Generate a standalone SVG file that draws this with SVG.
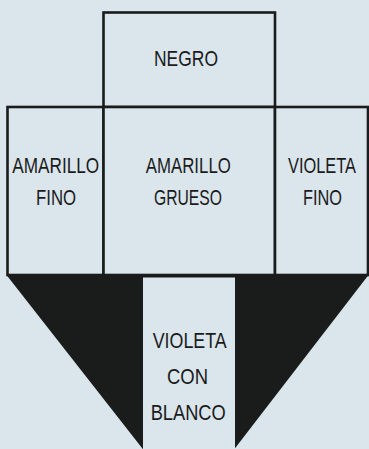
<svg xmlns="http://www.w3.org/2000/svg" width="369" height="449" viewBox="0 0 369 449">
<style>
.bg{fill:#dbe5ec}
.box{fill:#dbe5ec;stroke:#1a1c1c;stroke-width:2.6}
.dark{fill:#1a1c1c}
.t{font-family:"Liberation Sans","Open Sans",sans-serif;font-size:22px;fill:#1a1c1c;text-anchor:middle}
</style>
<rect class="bg" x="0" y="0" width="369" height="449"/>
<g id="triangulo">
<polygon class="dark" points="6.5,275 368.5,275 189,508"/>
</g>
<g id="negro">
<rect class="box" x="103.5" y="12.5" width="171.5" height="94.5"/>
<text class="t" transform="translate(186,66) scale(0.78,1)" textLength="82" lengthAdjust="spacingAndGlyphs">NEGRO</text>
</g>
<g id="amarillo-fino">
<rect class="box" x="7.5" y="107" width="96" height="168"/>
<text class="t" transform="translate(55.7,173) scale(0.78,1)" textLength="111.5" lengthAdjust="spacingAndGlyphs">AMARILLO</text>
<text class="t" transform="translate(56,205) scale(0.78,1)" textLength="51.3" lengthAdjust="spacingAndGlyphs">FINO</text>
</g>
<g id="amarillo-grueso">
<rect class="box" x="103.5" y="107" width="171.5" height="168"/>
<text class="t" transform="translate(188.3,173) scale(0.78,1)" textLength="109" lengthAdjust="spacingAndGlyphs">AMARILLO</text>
<text class="t" transform="translate(188,205) scale(0.78,1)" textLength="87.2" lengthAdjust="spacingAndGlyphs">GRUESO</text>
</g>
<g id="violeta-fino">
<rect class="box" x="275" y="107" width="93" height="168"/>
<text class="t" transform="translate(322,173) scale(0.78,1)" textLength="87.2" lengthAdjust="spacingAndGlyphs">VIOLETA</text>
<text class="t" transform="translate(322.5,205) scale(0.78,1)" textLength="50" lengthAdjust="spacingAndGlyphs">FINO</text>
</g>
<g id="violeta-con-blanco">
<rect class="bg" x="143" y="277.5" width="92" height="172"/>
<text class="t" transform="translate(189.7,348) scale(0.78,1)" textLength="94.9" lengthAdjust="spacingAndGlyphs">VIOLETA</text>
<text class="t" transform="translate(187.5,384) scale(0.78,1)" textLength="52.6" lengthAdjust="spacingAndGlyphs">CON</text>
<text class="t" transform="translate(188.2,420) scale(0.78,1)" textLength="96.2" lengthAdjust="spacingAndGlyphs">BLANCO</text>
</g>
<g id="connectors"/>
</svg>
